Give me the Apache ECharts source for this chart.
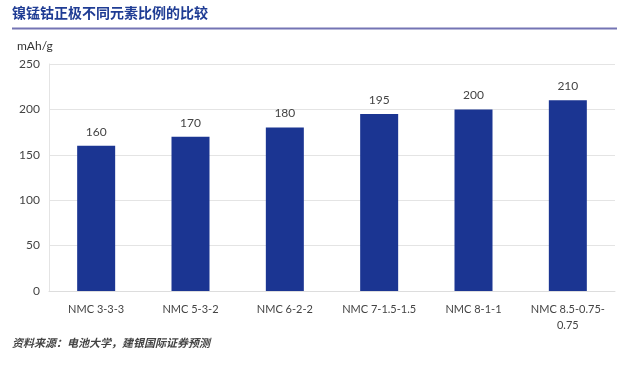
<!DOCTYPE html>
<html><head><meta charset="utf-8">
<script src="https://cdn.jsdelivr.net/npm/echarts@6/dist/echarts.min.js"></script>
<style>html,body{margin:0;padding:0;background:#fff}#c{width:640px;height:368px}</style>
</head><body><div id="c"></div>
<script>
const categories = ["NMC 3-3-3", "NMC 5-3-2", "NMC 6-2-2", "NMC 7-1.5-1.5", "NMC 8-1-1", "NMC 8.5-0.75-0.75"];
const capacity = [160, 170, 180, 195, 200, 210];
const yTicks = [0, 50, 100, 150, 200, 250];
const titleText = "镍锰钴正极不同元素比例的比较";
const sourceText = "资料来源：电池大学，建银国际证券预测";
const unitText = "mAh/g";

const chart = echarts.init(document.getElementById('c'));
chart.setOption({
  animation: false,
  backgroundColor: '#fff',
  graphic: [
    {type: 'text', left: 12, top: 6, style: {text: titleText, font: 'bold 14px "Noto Sans CJK SC"', fill: '#1f3c94'}},
    {type: 'line', shape: {x1: 12, y1: 28.5, x2: 617, y2: 28.5}, style: {stroke: '#7474b4', lineWidth: 2}},
    {type: 'text', left: 12, top: 337, style: {text: sourceText, font: 'italic bold 11px "Noto Sans CJK SC"', fill: '#444'}},
    {type: 'text', left: 17, top: 40, style: {text: unitText, font: '12px Lato', fill: '#333'}}
  ],
  grid: {left: 49, right: 25, top: 64, bottom: 77, containLabel: false},
  xAxis: {
    type: 'category', data: categories,
    axisLine: {lineStyle: {color: '#ddd'}},
    axisTick: {show: false},
    axisLabel: {color: '#444', fontFamily: 'Lato', fontSize: 11, margin: 10, interval: 0, lineHeight: 16,
      formatter: v => v.length > 14 ? v.replace(/-(?=[^-]*$)/, '-\n') : v}
  },
  yAxis: {
    type: 'value', min: 0, max: yTicks[yTicks.length - 1], interval: 50,
    axisLine: {show: true, lineStyle: {color: '#e4e4e4'}},
    axisTick: {show: false},
    axisLabel: {color: '#444', fontFamily: 'Lato', fontSize: 12, margin: 9},
    splitLine: {lineStyle: {color: '#e4e4e4'}}
  },
  series: [{
    type: 'bar', data: capacity, barWidth: 38,
    itemStyle: {color: '#1b3592'},
    label: {show: true, position: 'top', color: '#444', fontFamily: 'Lato', fontSize: 12, distance: 8}
  }]
});
</script></body></html>
